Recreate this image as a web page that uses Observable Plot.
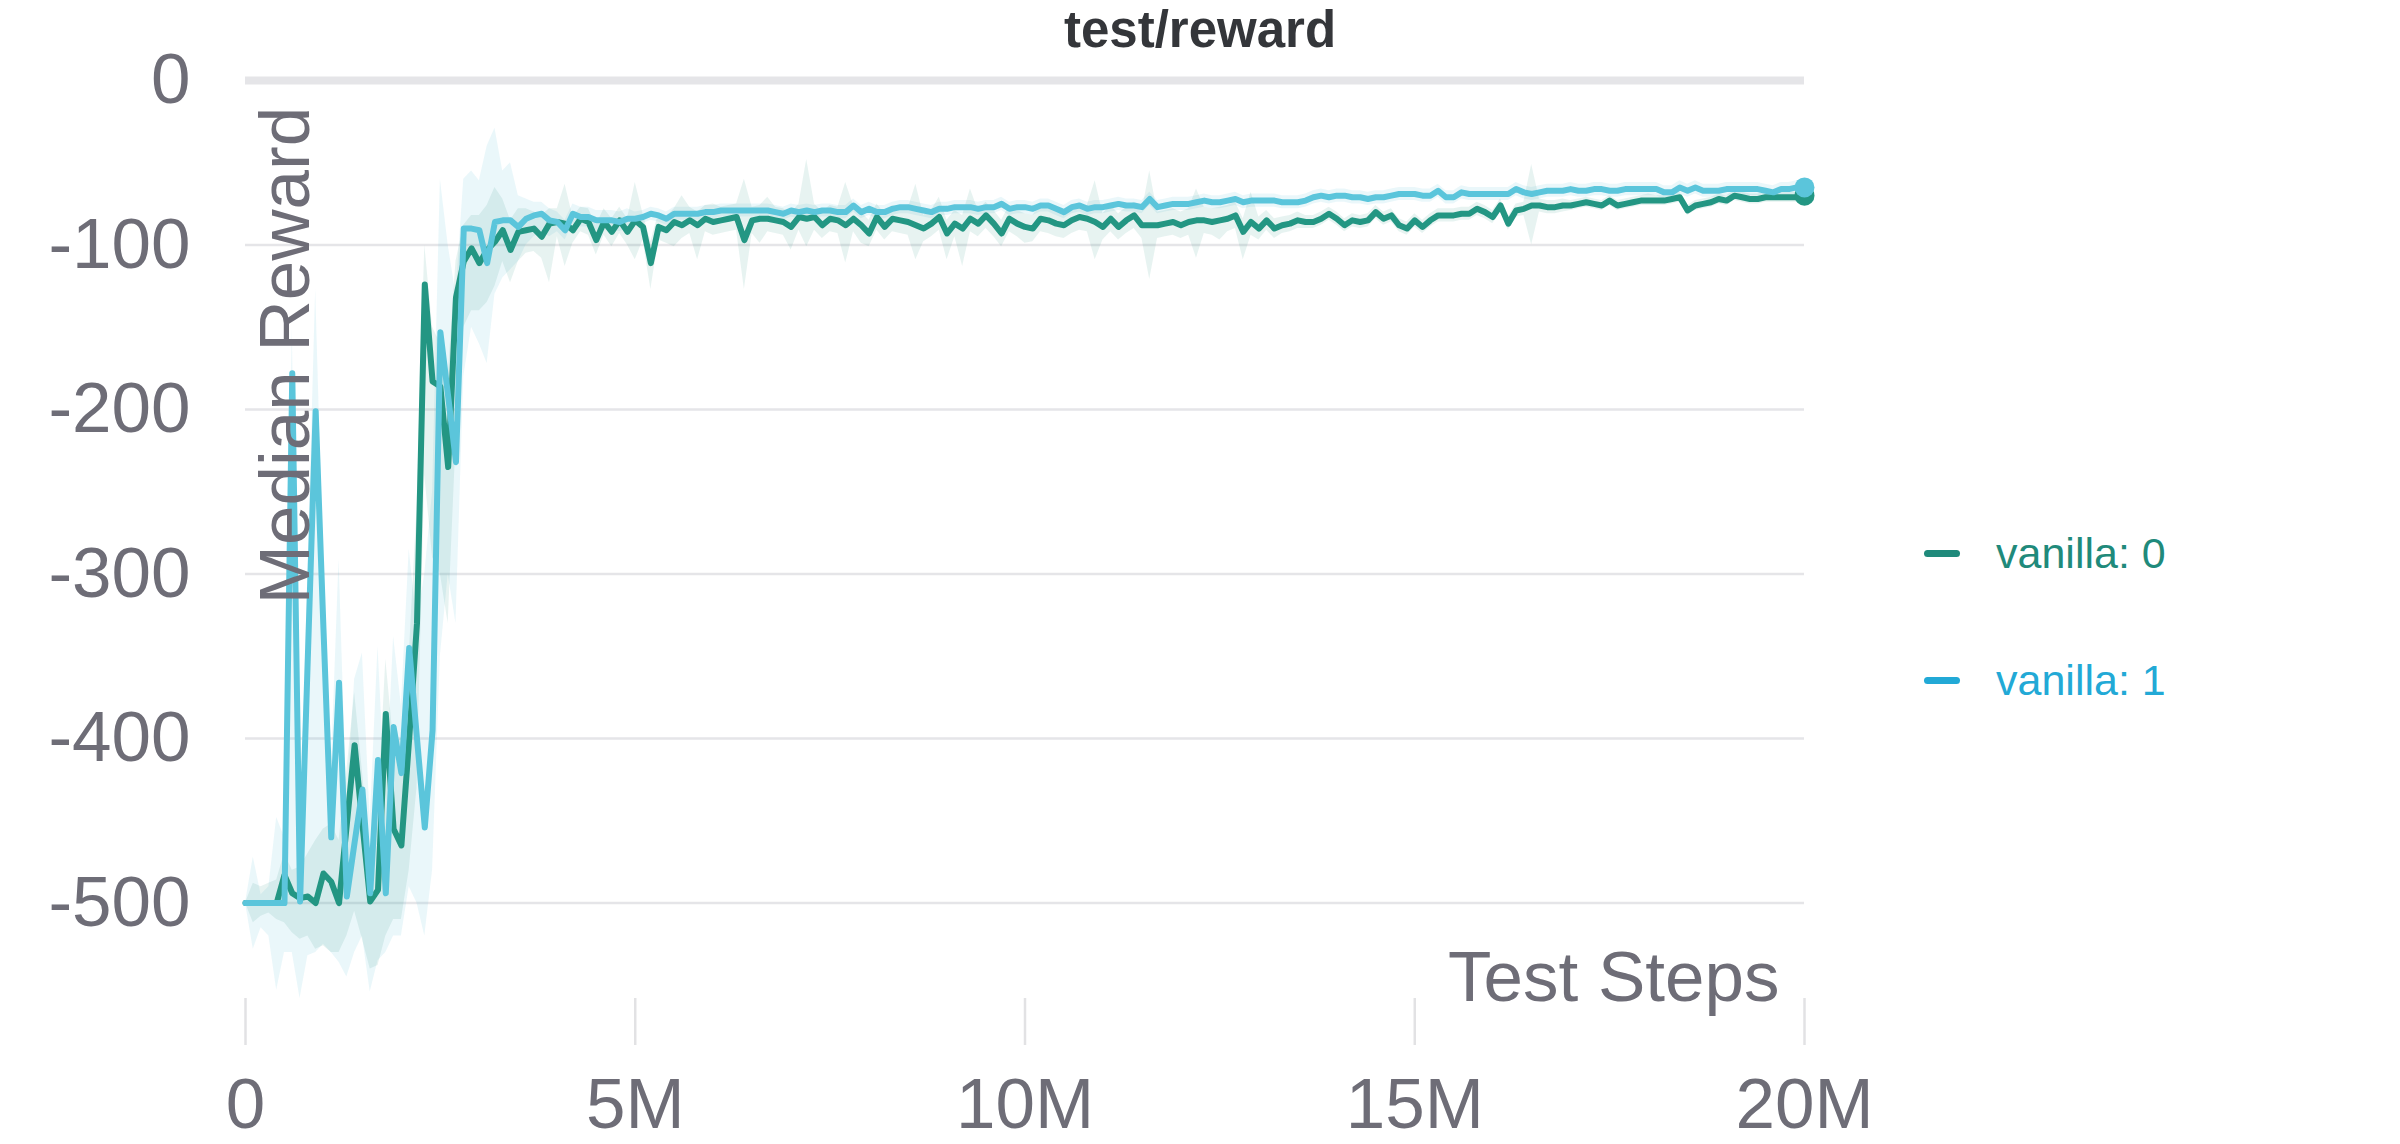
<!DOCTYPE html>
<html>
<head>
<meta charset="utf-8">
<script src="https://cdn.jsdelivr.net/npm/d3@7"></script>
<script src="https://cdn.jsdelivr.net/npm/@observablehq/plot@0.6"></script>
<style>
  html, body { margin: 0; padding: 0; background: #ffffff; }
  #page { position: relative; width: 2400px; height: 1144px; overflow: hidden; font-family: "Liberation Sans", Arial, Helvetica, sans-serif; }
  #title { position: relative; z-index: 0; height: 60px; line-height: 60px; text-align: center; font-weight: bold; font-size: 51px; color: #34363a; }
  #chart { position: relative; z-index: 1; }
  #legend { position: absolute; z-index: 2; left: 1924px; top: 523px; }
  .item { display: flex; align-items: center; height: 60px; margin-bottom: 67px; font-size: 43px; }
  .swatch { width: 36px; height: 7px; border-radius: 4px; margin-right: 36px; }
</style>
</head>
<body>
<div id="page">
  <div id="title"></div>
  <div id="chart"></div>
  <div id="legend"></div>
</div>
<script>
// ---------- data ----------
const chartTitle = "test/reward";
const xAxisLabel = "Test Steps";
const yAxisLabel = "Median Reward";
const seriesNames = ["vanilla: 0", "vanilla: 1"];
const lineColors = ["#239683", "#5bc5db"];
const legendColors = ["#1f8a7b", "#22a9d6"];

const xTicks = [0, 5e6, 10e6, 15e6, 20e6];
const xTickLabels = ["0", "5M", "10M", "15M", "20M"];
const yTicks = [0, -100, -200, -300, -400, -500];
const yTickLabels = ["0", "-100", "-200", "-300", "-400", "-500"];

// evaluation every 100k steps, 0 .. 20M
const steps = d3.range(201).map(i => i * 1e5);

const reward0 = [
  -500,-500,-500,-500,-500,-483,-494,-497,-496,-500,
  -482,-487,-500,-452,-404,-452,-499,-492,-385,-455,
  -465,-400,-330,-124,-183,-186,-235,-132,-110,-102,
  -111,-103,-98,-91,-103,-92,-91,-90,-95,-87,
  -86,-87,-91,-84,-86,-97,-86,-92,-85,-92,
  -85,-89,-111,-89,-91,-86,-88,-85,-88,-84,
  -86,-85,-84,-83,-97,-85,-84,-84,-85,-86,
  -89,-83,-84,-83,-88,-84,-85,-88,-84,-88,
  -93,-83,-89,-84,-85,-86,-88,-90,-87,-83,
  -93,-87,-90,-84,-87,-82,-87,-93,-84,-87,
  -89,-90,-84,-85,-87,-88,-85,-83,-84,-86,
  -89,-84,-89,-85,-82,-88,-88,-88,-87,-86,
  -88,-86,-85,-85,-86,-85,-84,-82,-92,-86,
  -90,-85,-90,-88,-87,-85,-86,-86,-84,-81,
  -84,-88,-85,-86,-85,-80,-84,-82,-88,-90,
  -85,-89,-85,-82,-82,-82,-81,-81,-78,-80,
  -83,-76,-87,-79,-78,-76,-76,-77,-77,-76,
  -76,-75,-74,-75,-76,-73,-76,-75,-74,-73,
  -73,-73,-73,-72,-71,-79,-76,-75,-74,-72,
  -73,-70,-71,-72,-72,-71,-71,-71,-71,-71,
  -70
];
const low0 = [
  -500,-512,-508,-506,-510,-512,-518,-522,-520,-528,
  -526,-530,-530,-520,-505,-522,-540,-538,-520,-510,
  -510,-480,-430,-240,-290,-300,-330,-220,-150,-140,
  -140,-135,-125,-110,-123,-110,-105,-104,-108,-123,
  -95,-113,-99,-92,-94,-106,-94,-101,-93,-100,
  -109,-97,-127,-97,-99,-101,-96,-93,-109,-92,
  -94,-93,-92,-91,-127,-93,-99,-92,-93,-94,
  -103,-91,-101,-91,-96,-92,-93,-111,-92,-99,
  -101,-91,-97,-92,-93,-94,-109,-98,-95,-91,
  -109,-95,-113,-92,-95,-90,-95,-101,-92,-95,
  -99,-98,-92,-93,-95,-96,-93,-91,-92,-109,
  -97,-92,-97,-93,-90,-96,-121,-96,-95,-94,
  -96,-94,-108,-93,-94,-97,-92,-90,-109,-94,
  -97,-91,-96,-93,-92,-90,-90,-90,-88,-85,
  -88,-92,-89,-90,-89,-84,-88,-86,-92,-94,
  -89,-93,-89,-86,-86,-86,-85,-85,-82,-84,
  -87,-80,-91,-83,-82,-100,-80,-81,-81,-80,
  -79,-78,-77,-78,-79,-76,-79,-78,-77,-76,
  -76,-76,-76,-75,-74,-82,-79,-78,-77,-75,
  -76,-73,-74,-75,-75,-74,-74,-74,-74,-74,
  -73
];
const high0 = [
  -500,-488,-490,-488,-486,-470,-480,-478,-470,-462,
  -455,-452,-462,-420,-372,-420,-470,-445,-352,-402,
  -400,-350,-260,-100,-150,-160,-180,-110,-88,-82,
  -82,-76,-65,-72,-85,-78,-78,-80,-82,-78,
  -78,-63,-83,-77,-78,-88,-78,-84,-77,-84,
  -62,-81,-98,-81,-83,-78,-70,-77,-80,-76,
  -75,-77,-76,-75,-60,-77,-76,-71,-77,-78,
  -81,-75,-48,-75,-80,-76,-77,-62,-76,-80,
  -85,-75,-81,-76,-77,-78,-63,-82,-79,-71,
  -85,-79,-82,-66,-79,-74,-79,-85,-76,-79,
  -81,-82,-76,-77,-79,-80,-77,-75,-76,-61,
  -81,-76,-81,-77,-74,-80,-55,-80,-79,-78,
  -80,-78,-66,-77,-78,-77,-76,-74,-84,-68,
  -83,-79,-84,-83,-82,-80,-82,-82,-80,-77,
  -80,-84,-81,-82,-81,-76,-80,-78,-84,-86,
  -81,-85,-81,-78,-78,-78,-77,-77,-74,-76,
  -79,-72,-83,-75,-74,-51,-72,-73,-73,-72,
  -73,-72,-71,-72,-73,-70,-73,-72,-71,-70,
  -69,-70,-70,-69,-68,-76,-73,-72,-71,-69,
  -70,-67,-68,-69,-69,-68,-68,-68,-68,-68,
  -67
];

const reward1 = [
  -500,-500,-500,-500,-500,-500,-178,-499,-350,-201,
  -333,-460,-366,-496,-463,-431,-494,-413,-494,-393,
  -421,-345,-400,-454,-395,-153,-192,-232,-90,-90,
  -91,-111,-86,-85,-85,-89,-84,-82,-81,-85,
  -86,-91,-81,-83,-83,-85,-85,-85,-86,-84,
  -84,-83,-81,-82,-84,-81,-81,-81,-81,-80,
  -80,-79,-79,-79,-79,-79,-79,-79,-80,-81,
  -79,-80,-79,-80,-79,-79,-80,-80,-76,-80,
  -78,-80,-80,-78,-77,-77,-78,-79,-80,-78,
  -78,-77,-77,-77,-78,-77,-77,-75,-78,-77,
  -77,-78,-76,-76,-78,-80,-77,-76,-78,-77,
  -77,-76,-75,-76,-76,-77,-72,-77,-76,-75,
  -75,-75,-74,-73,-74,-74,-73,-72,-74,-73,
  -73,-73,-73,-74,-74,-74,-73,-71,-70,-71,
  -70,-70,-71,-71,-72,-71,-71,-70,-69,-69,
  -69,-70,-70,-67,-71,-71,-68,-69,-69,-69,
  -69,-69,-69,-66,-68,-69,-68,-67,-67,-67,
  -66,-67,-67,-66,-66,-67,-67,-66,-66,-66,
  -66,-66,-68,-68,-65,-67,-65,-67,-67,-67,
  -66,-66,-66,-66,-66,-67,-68,-66,-66,-65,
  -65
];
const low1 = [
  -500,-528,-515,-520,-553,-530,-530,-558,-532,-530,
  -525,-530,-536,-545,-530,-520,-554,-535,-530,-520,
  -520,-490,-500,-520,-480,-350,-300,-330,-180,-150,
  -160,-172,-130,-120,-115,-110,-100,-95,-92,-95,
  -92,-97,-87,-89,-89,-91,-91,-91,-92,-90,
  -88,-87,-85,-86,-88,-85,-85,-85,-85,-84,
  -84,-83,-83,-83,-83,-83,-83,-83,-84,-85,
  -83,-84,-83,-84,-83,-83,-84,-84,-80,-84,
  -82,-84,-84,-82,-81,-81,-82,-83,-84,-82,
  -82,-81,-81,-81,-82,-81,-81,-79,-82,-81,
  -81,-82,-80,-80,-82,-84,-81,-80,-82,-81,
  -81,-80,-79,-80,-80,-81,-76,-81,-80,-79,
  -79,-79,-78,-77,-78,-78,-77,-76,-78,-77,
  -77,-77,-77,-78,-78,-78,-77,-75,-74,-75,
  -74,-74,-75,-75,-76,-75,-75,-74,-73,-73,
  -73,-74,-74,-71,-75,-75,-72,-73,-73,-73,
  -73,-73,-73,-70,-72,-73,-72,-71,-71,-71,
  -70,-71,-71,-70,-70,-71,-71,-70,-70,-70,
  -70,-70,-72,-72,-69,-71,-69,-71,-71,-71,
  -70,-70,-70,-70,-70,-71,-72,-70,-70,-69,
  -69
];
const high1 = [
  -500,-472,-495,-490,-448,-460,-150,-470,-300,-127,
  -290,-420,-291,-440,-364,-348,-450,-344,-440,-338,
  -380,-285,-330,-300,-250,-60,-100,-130,-60,-55,
  -61,-40,-29,-55,-50,-70,-72,-74,-74,-78,
  -80,-85,-75,-77,-77,-79,-79,-79,-80,-78,
  -80,-79,-77,-78,-80,-77,-77,-77,-77,-76,
  -76,-75,-75,-75,-75,-75,-75,-75,-76,-77,
  -75,-76,-75,-76,-75,-75,-76,-76,-72,-76,
  -74,-76,-76,-74,-73,-73,-74,-75,-76,-74,
  -74,-73,-73,-73,-74,-73,-73,-71,-74,-73,
  -73,-74,-72,-72,-74,-76,-73,-72,-74,-73,
  -73,-72,-71,-72,-72,-73,-68,-73,-72,-71,
  -71,-71,-70,-69,-70,-70,-69,-68,-70,-69,
  -69,-69,-69,-70,-70,-70,-69,-67,-66,-67,
  -66,-66,-67,-67,-68,-67,-67,-66,-65,-65,
  -65,-66,-66,-63,-67,-67,-64,-65,-65,-65,
  -65,-65,-65,-62,-64,-65,-64,-63,-63,-63,
  -62,-63,-63,-62,-62,-63,-63,-62,-62,-62,
  -62,-62,-64,-64,-61,-63,-61,-63,-63,-63,
  -62,-62,-62,-62,-62,-63,-64,-62,-62,-61,
  -61
];

// ---------- build table ----------
const rewards = [reward0, reward1];
const lows = [low0, low1];
const highs = [high0, high1];
const rows = seriesNames.flatMap((name, s) =>
  steps.map((step, i) => ({series: name, step, reward: rewards[s][i], lo: lows[s][i], hi: highs[s][i]}))
);
const bySeries = name => rows.filter(d => d.series === name);

// ---------- title & legend ----------
document.getElementById("title").textContent = chartTitle;
const legend = document.getElementById("legend");
seriesNames.forEach((name, i) => {
  const item = document.createElement("div");
  item.className = "item";
  const sw = document.createElement("span");
  sw.className = "swatch";
  sw.style.background = legendColors[i];
  const label = document.createElement("span");
  label.textContent = name;
  label.style.color = legendColors[i];
  item.appendChild(sw);
  item.appendChild(label);
  legend.appendChild(item);
});

// ---------- chart ----------
const textColor = "#6e6d77";
const chart = Plot.plot({
  width: 2400,
  height: 1084,
  marginLeft: 245,
  marginRight: 596,
  marginTop: 20,
  marginBottom: 146,
  style: {
    fontFamily: "'Liberation Sans', Arial, Helvetica, sans-serif",
    fontSize: "71px",
    color: textColor,
    background: "transparent",
    overflow: "visible"
  },
  x: {domain: [0, 20e6]},
  y: {domain: [-558, 0]},
  color: {domain: seriesNames, range: lineColors},
  marks: [
    Plot.ruleY(yTicks, {y: d => d, stroke: "#e5e5e8", strokeWidth: d => d === 0 ? 8 : 2.5}),
    Plot.areaY(bySeries(seriesNames[1]), {x: "step", y1: "lo", y2: "hi", fill: lineColors[1], fillOpacity: 0.13}),
    Plot.areaY(bySeries(seriesNames[0]), {x: "step", y1: "lo", y2: "hi", fill: lineColors[0], fillOpacity: 0.11}),
    Plot.line(rows, {x: "step", y: "reward", z: "series", stroke: "series", strokeWidth: 6, strokeLinejoin: "round", strokeLinecap: "round"}),
    Plot.dot(rows, Plot.selectLast({x: "step", y: "reward", z: "series", fill: "series", r: 10, stroke: null})),
    Plot.axisY({ticks: yTicks, tickFormat: d => yTickLabels[yTicks.indexOf(d)], tickSize: 0, tickPadding: 55, fontSize: 71, fill: textColor, label: null}),
    Plot.axisX({ticks: xTicks, tickFormat: d => xTickLabels[xTicks.indexOf(d)], tickSize: 47, tickPadding: 32, stroke: "#e2e2e4", strokeWidth: 2.5, fontSize: 71, fill: textColor, label: null}),
    Plot.text([yAxisLabel], {text: d => d, frameAnchor: "top-left", rotate: -90, textAnchor: "middle", dx: 13, dy: 275, fontSize: 71, fill: textColor}),
    Plot.text([xAxisLabel], {text: d => d, frameAnchor: "bottom-right", textAnchor: "end", lineAnchor: "bottom", dx: -25, dy: 2, fontSize: 71, fill: textColor})
  ]
});
document.getElementById("chart").appendChild(chart);
</script>
</body>
</html>
